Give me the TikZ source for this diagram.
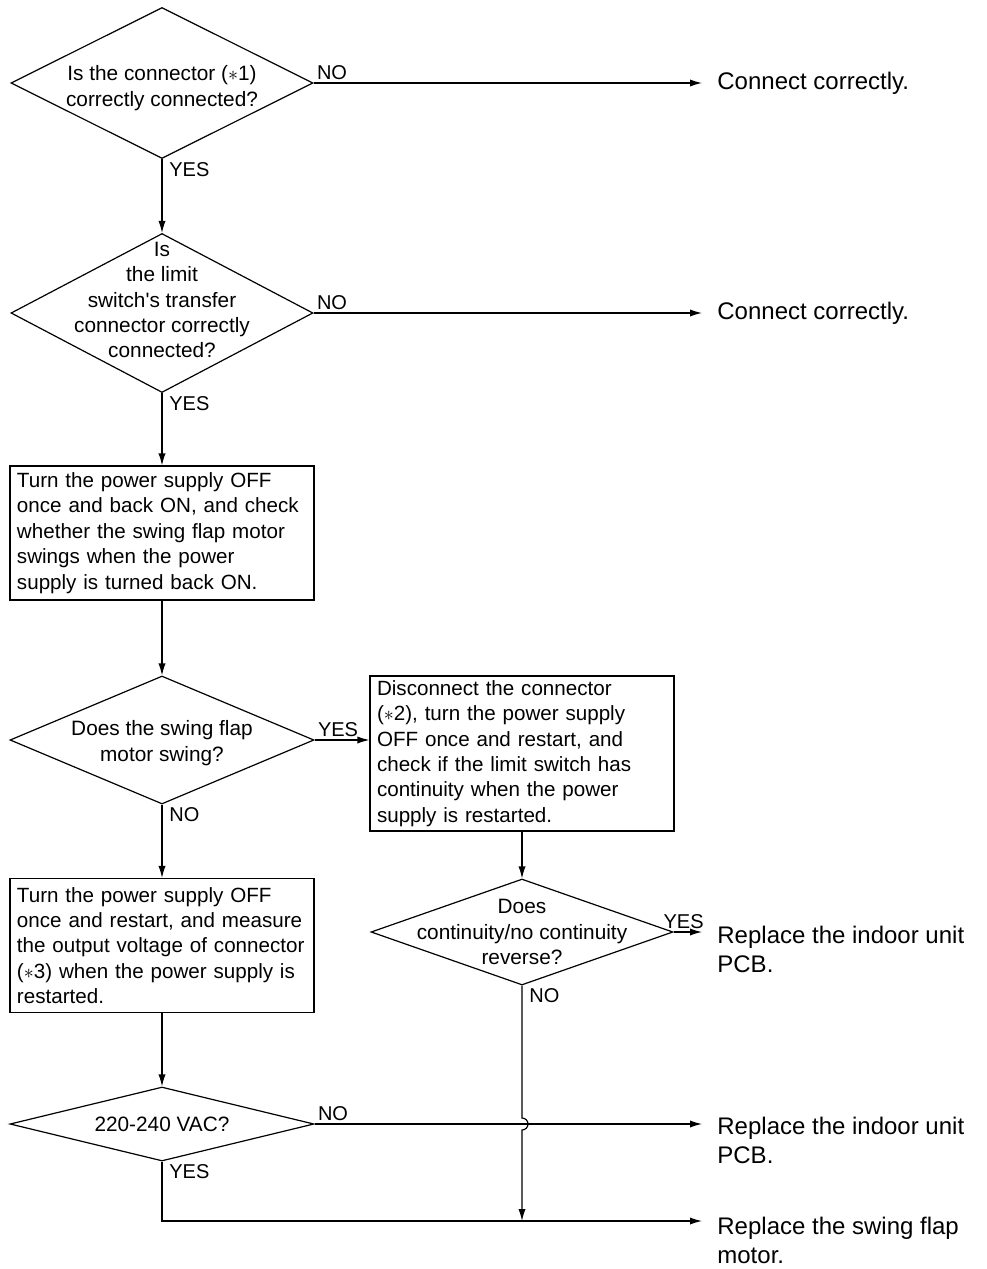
\documentclass[tikz,border=0pt]{standalone}
\usepackage{fontspec}
\setmainfont{Liberation Sans}
\usetikzlibrary{shapes.geometric,arrows.meta}

\begin{document}
\begin{tikzpicture}[
    x=0.5pt, y=-0.5pt,
    >={Latex[length=6pt,width=3.6pt]},
    flow/.style={->, line width=0.6pt},
    decision/.style={draw, diamond, line width=0.6pt, inner sep=0pt, minimum width=151pt},
    qtext/.style={font=\fontsize{10.4}{12.7}\selectfont, align=center, inner sep=0pt},
    stepbox/.style={draw, rectangle, line width=0.6pt, align=left, text width=145pt, inner xsep=3.5pt, inner ysep=0pt, minimum height=67pt, font=\fontsize{10.3}{12.7}\selectfont},
    answer/.style={font=\fontsize{10}{12}\selectfont, inner sep=1.5pt},
    result/.style={anchor=west, align=left, inner xsep=7.5pt, inner ysep=0pt, font=\fontsize{12}{14.5}\selectfont}
]
  \useasboundingbox (0,0) rectangle (986,1269);

  % Connector checks
  \node[decision, minimum height=75.5pt] (d1) at (162,83) {};
  \node[qtext] (d1text) at ([yshift=-2.5pt]d1.center) {Is the connector ($\ast$1)\\correctly connected?};
  \node[result] (r1) at (702,83) {Connect correctly.};

  \node[decision, minimum height=79.5pt] (d2) at (162,313) {};
  \node[qtext] (d2text) at ([yshift=6.5pt]d2.center) {Is\\the limit\\switch\textquotesingle s transfer\\connector correctly\\connected?};
  \node[result] (r2) at (702,313) {Connect correctly.};

  % Swing check
  \node[stepbox] (s1) at (162,533) {Turn the power supply OFF\\once and back ON, and check\\whether the swing flap motor\\swings when the power\\supply is turned back ON.};

  \node[decision, minimum width=152pt, minimum height=64pt] (d3) at (162,740) {};
  \node[qtext] (d3text) at ([yshift=-1.5pt]d3.center) {Does the swing flap\\motor swing?};

  \node[stepbox, minimum height=77.5pt] (s2) at (522,753.5) {Disconnect the connector\\($\ast$2), turn the power supply\\OFF once and restart, and\\check if the limit switch has\\continuity when the power\\supply is restarted.};

  \node[decision, minimum height=53pt] (d4) at (522,932) {};
  \node[qtext] (d4text) at (d4.center) {Does\\continuity/no continuity\\reverse?};
  \node[result] (r3) at (702,949.5) {Replace the indoor unit\\PCB.};

  % Voltage check
  \node[stepbox] (s3) at (162,945.5) {Turn the power supply OFF\\once and restart, and measure\\the output voltage of connector\\($\ast$3) when the power supply is\\restarted.};

  \node[decision, minimum width=152pt, minimum height=37pt] (d5) at (162,1124) {};
  \node[qtext] (d5text) at (d5.center) {220-240 VAC?};
  \node[result] (r4) at (702,1140.5) {Replace the indoor unit\\PCB.};

  \coordinate (corner) at (162,1221);
  \node[result] (r5) at (702,1240) {Replace the swing flap\\motor.};

  % Answers
  \node[answer, anchor=south west] (d1no) at (d1.east) {NO};
  \node[answer, anchor=north west, xshift=2pt] (d1yes) at (d1.south) {YES};
  \node[answer, anchor=south west] (d2no) at (d2.east) {NO};
  \node[answer, anchor=north west, xshift=2pt] (d2yes) at (d2.south) {YES};
  \node[answer, anchor=south west] (d3yes) at (d3.east) {YES};
  \node[answer, anchor=north west, xshift=2pt] (d3no) at (d3.south) {NO};
  \node[answer, anchor=south, xshift=5pt] (d4yes) at (d4.east) {YES};
  \node[answer, anchor=north west, xshift=2pt] (d4no) at (d4.south) {NO};
  \node[answer, anchor=south west] (d5no) at (d5.east) {NO};
  \node[answer, anchor=north west, xshift=2pt] (d5yes) at (d5.south) {YES};

  % Flow lines
  \draw[flow] (d1.east) -- (r1.west);
  \draw[flow] (d1.south) -- (d2.north);
  \draw[flow] (d2.east) -- (r2.west);
  \draw[flow] (d2.south) -- (s1.north);
  \draw[flow] (s1.south) -- (d3.north);
  \draw[flow] (d3.east) -- (s2.west |- d3.east);
  \draw[flow] (d3.south) -- (s3.north);
  \draw[flow] (s2.south) -- (d4.north);
  \draw[flow] (d4.east) -- (r3.west |- d4.east);
  \draw[flow] (s3.south) -- (d5.north);
  \draw[flow] (d5.east) -- (r4.west |- d5.east);
  \draw[flow] (d5.south) -- (corner) -- (r5.west |- corner);
  \draw[flow] (d4.south) -- ([yshift=3pt]d4.south |- d5.east) arc[start angle=90, end angle=-90, radius=3pt] -- (d4.south |- corner);
\end{tikzpicture}
\end{document}
